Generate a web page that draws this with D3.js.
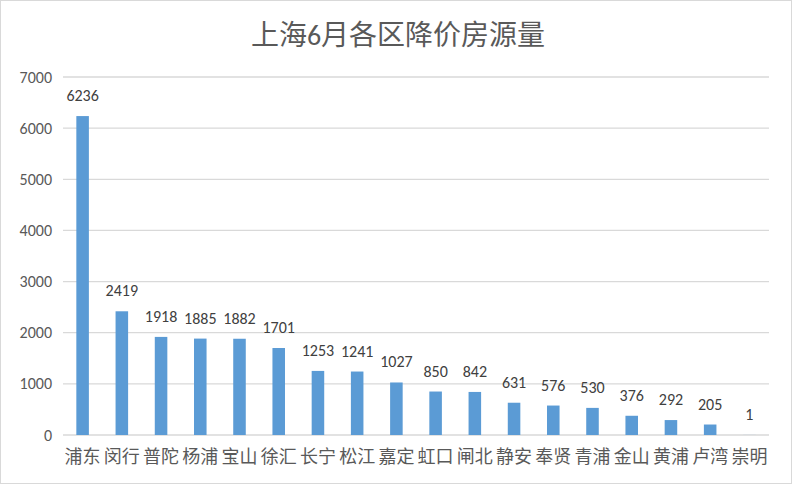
<!DOCTYPE html>
<html>
<head>
<meta charset="utf-8">
<script src="https://cdn.jsdelivr.net/npm/d3@7"></script>
<style>
  body { margin: 0; background: #fff; }
  text { font-family: Calibri, Lato, "Noto Sans CJK SC", sans-serif; }
</style>
</head>
<body>
<div id="chart"></div>
<script>
const districts = ['浦东', '闵行', '普陀', '杨浦', '宝山', '徐汇', '长宁', '松江', '嘉定', '虹口', '闸北', '静安', '奉贤', '青浦', '金山', '黄浦', '卢湾', '崇明'];
const counts = [6236, 2419, 1918, 1885, 1882, 1701, 1253, 1241, 1027, 850, 842, 631, 576, 530, 376, 292, 205, 1];
const yTicks = [0, 1000, 2000, 3000, 4000, 5000, 6000, 7000];
const title = '上海6月各区降价房源量';

const W = 792, H = 484;
const MARGIN = {top: 77, right: 23, bottom: 49, left: 63};
const width = W - MARGIN.left - MARGIN.right;
const height = H - MARGIN.top - MARGIN.bottom;

const svg = d3.select('#chart').append('svg')
  .attr('width', W)
  .attr('height', H);

// outer frame
svg.append('rect')
  .attr('x', 0.5).attr('y', 0.5)
  .attr('width', W - 1).attr('height', H - 1)
  .attr('fill', '#fff')
  .attr('stroke', '#d9d9d9');

svg.append('text')
  .attr('x', W / 2 + 2)
  .attr('y', 45)
  .attr('text-anchor', 'middle')
  .attr('font-size', 28)
  .attr('fill', '#595959')
  .text(title);

const g = svg.append('g')
  .attr('transform', `translate(${MARGIN.left}, ${MARGIN.top})`);

const x = d3.scaleBand()
  .domain(districts)
  .range([0, width])
  .paddingInner(0.68)
  .paddingOuter(0.34);

const y = d3.scaleLinear()
  .domain([0, 7000])
  .range([height, 0]);

// gridlines
g.append('g')
  .selectAll('line')
  .data(yTicks)
  .join('line')
  .attr('x1', 0).attr('x2', width)
  .attr('y1', d => y(d)).attr('y2', d => y(d))
  .attr('stroke', '#d9d9d9')
  .attr('stroke-width', 1.3);

// y axis labels
const yAxis = d3.axisLeft(y).tickValues(yTicks).tickFormat(d3.format('d')).tickSize(0).tickPadding(11);
g.append('g')
  .call(yAxis)
  .call(s => s.select('.domain').remove())
  .call(s => s.selectAll('text')
    .attr('font-size', 16)
    .attr('fill', '#595959')
    .style('font-family', 'Calibri, Lato, sans-serif'));

// bars
g.append('g')
  .selectAll('rect')
  .data(counts)
  .join('rect')
  .attr('x', (d, i) => x(districts[i]))
  .attr('y', d => y(d))
  .attr('width', x.bandwidth())
  .attr('height', d => height - y(d))
  .attr('fill', '#5b9bd5');

// value labels
g.append('g')
  .selectAll('text')
  .data(counts)
  .join('text')
  .attr('x', (d, i) => x(districts[i]) + x.bandwidth() / 2)
  .attr('y', d => y(d) - 15)
  .attr('text-anchor', 'middle')
  .attr('font-size', 16)
  .attr('fill', '#404040')
  .text(d => d);

// x axis
const xAxis = d3.axisBottom(x).tickSize(0).tickPadding(15);
g.append('g')
  .attr('transform', `translate(0, ${height})`)
  .call(xAxis)
  .call(s => s.select('.domain').remove())
  .call(s => s.selectAll('text')
    .attr('font-size', 18)
    .attr('fill', '#595959')
    .style('font-family', '"Noto Sans CJK SC", sans-serif'));
</script>
</body>
</html>
